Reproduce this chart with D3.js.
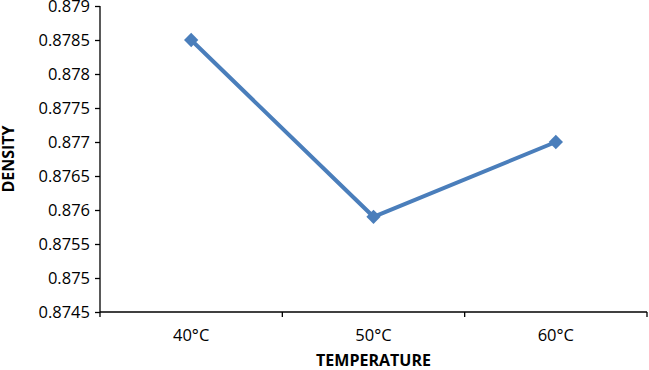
<!doctype html>
<html lang="en">
<head>
  <meta charset="UTF-8">
  <title>density vs temperature</title>
  <style>
    * { padding: 0; margin: 0; }
    body { background: #fff; }
    .axis text { font-family: "Open Sans", sans-serif; font-size: 16.5px; fill: #000; }
    .axis path, .axis line { stroke: #000; stroke-width: 1.3px; }
    .title { font-family: "Open Sans", sans-serif; font-size: 16px; font-weight: bold; fill: #000; }
  </style>
  <script src="https://cdn.jsdelivr.net/npm/d3@7"></script>
</head>
<body>
  <svg width="649" height="370"></svg>
  <script>
    var categories = ["40°C", "50°C", "60°C"];
    var density = [0.8785, 0.8759, 0.8770];
    var yTicks = [0.8745, 0.875, 0.8755, 0.876, 0.8765, 0.877, 0.8775, 0.878, 0.8785, 0.879];

    var marge = { top: 6, left: 100, right: 2, bottom: 58 };
    var svg = d3.select("svg");
    var width = 649 - marge.left - marge.right;
    var height = 370 - marge.top - marge.bottom;

    var g = svg.append("g")
      .attr("transform", "translate(" + marge.left + "," + marge.top + ")");

    var xScale = d3.scaleBand()
      .domain(categories)
      .range([0, 547]);

    var yScale = d3.scaleLinear()
      .domain([0.8745, 0.879])
      .range([height, 0]);

    var yAxis = d3.axisLeft(yScale)
      .tickValues(yTicks)
      .tickSize(5)
      .tickPadding(5)
      .tickFormat(function (d) { return String(+d.toFixed(4)); });

    g.append("g")
      .attr("class", "axis")
      .call(yAxis)
      .call(function (s) { s.select(".domain").attr("d", "M0,0V" + height); });

    // x axis: ticks sit between categories
    var xAxisG = g.append("g")
      .attr("class", "axis")
      .attr("transform", "translate(0," + height + ")");

    xAxisG.append("line")
      .attr("x1", 0).attr("x2", 547)
      .attr("y1", 0).attr("y2", 0);

    var bounds = [0].concat(categories.map(function (c) { return xScale(c) + xScale.bandwidth(); }));
    xAxisG.selectAll(".tk")
      .data(bounds)
      .enter()
      .append("line")
      .attr("class", "tk")
      .attr("x1", function (d) { return d; })
      .attr("x2", function (d) { return d; })
      .attr("y1", 0).attr("y2", 5);

    xAxisG.selectAll(".lbl")
      .data(categories)
      .enter()
      .append("text")
      .attr("class", "lbl")
      .attr("x", function (d) { return xScale(d) + xScale.bandwidth() / 2; })
      .attr("y", 29)
      .attr("text-anchor", "middle")
      .text(function (d) { return d; });

    var line = d3.line()
      .x(function (d, i) { return xScale(categories[i]) + xScale.bandwidth() / 2; })
      .y(function (d) { return yScale(d); });

    g.append("path")
      .datum(density)
      .attr("d", line)
      .attr("fill", "none")
      .attr("stroke", "#4a7ebb")
      .attr("stroke-width", 4);

    g.selectAll(".pt")
      .data(density)
      .enter()
      .append("path")
      .attr("class", "pt")
      .attr("d", d3.symbol().type(d3.symbolDiamond2).size(130))
      .attr("transform", function (d, i) {
        return "translate(" + (xScale(categories[i]) + xScale.bandwidth() / 2) + "," + yScale(d) + ")";
      })
      .attr("fill", "#4a7ebb");

    svg.append("text")
      .attr("class", "title")
      .attr("x", marge.left + 547 / 2)
      .attr("y", 366)
      .attr("text-anchor", "middle")
      .text("TEMPERATURE");

    svg.append("text")
      .attr("class", "title")
      .attr("transform", "translate(14," + (marge.top + height / 2) + ") rotate(-90)")
      .attr("text-anchor", "middle")
      .text("DENSITY");
  </script>
</body>
</html>
